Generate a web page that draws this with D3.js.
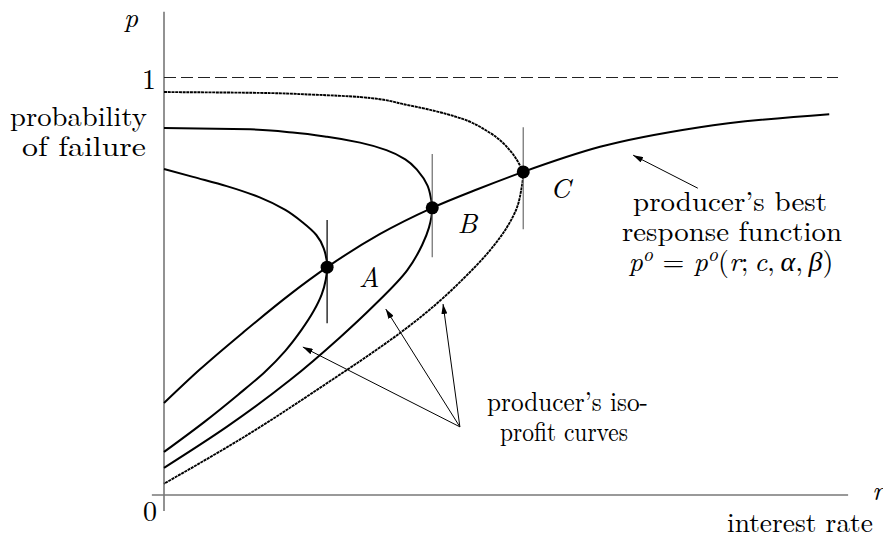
<!DOCTYPE html>
<html>
<head>
<meta charset="utf-8">
<script src="https://cdn.jsdelivr.net/npm/d3@7"></script>
<style>
  body { margin: 0; background: #fff; }
</style>
</head>
<body>
<div id="chart"></div>
<script>
// points, as [r, p]
const bestResponse = [
  [0, 0.220], [0.053, 0.300], [0.119, 0.391], [0.187, 0.480], [0.242, 0.545],
  [0.320, 0.624], [0.398, 0.687], [0.466, 0.732], [0.533, 0.773], [0.647, 0.833],
  [0.795, 0.880], [0.987, 0.911]
];
// iso-profit curves, top end -> tangency -> bottom end (p falling)
const isoA = [
  [0, 0.780], [0.043, 0.761], [0.093, 0.739], [0.142, 0.712], [0.180, 0.682],
  [0.205, 0.653], [0.226, 0.622], [0.237, 0.590], [0.242, 0.545], [0.240, 0.515],
  [0.234, 0.480], [0.222, 0.440], [0.204, 0.395], [0.180, 0.345], [0.150, 0.295],
  [0.110, 0.240], [0.060, 0.175], [0, 0.103]
];
const isoB = [
  [0, 0.878], [0.128, 0.875], [0.191, 0.867], [0.242, 0.857], [0.291, 0.843],
  [0.330, 0.825], [0.358, 0.803], [0.377, 0.775], [0.391, 0.740], [0.396, 0.710],
  [0.398, 0.687], [0.393, 0.639], [0.383, 0.598], [0.361, 0.538], [0.310, 0.451],
  [0.261, 0.377], [0.187, 0.275], [0.093, 0.163], [0, 0.065]
];
const isoC = [
  [0, 0.964], [0.142, 0.962], [0.217, 0.958], [0.291, 0.952], [0.361, 0.933],
  [0.435, 0.904], [0.484, 0.866], [0.513, 0.825], [0.528, 0.789], [0.533, 0.773],
  [0.530, 0.730], [0.524, 0.689], [0.509, 0.641], [0.484, 0.586], [0.442, 0.514],
  [0.409, 0.464], [0.358, 0.397], [0.306, 0.337], [0.246, 0.272], [0.128, 0.148],
  [0, 0.027]
];
const equilibria = [
  { name: "A", r: 0.242, p: 0.545, top: 0.658, bottom: 0.411 },
  { name: "B", r: 0.398, p: 0.687, top: 0.816, bottom: 0.569 },
  { name: "C", r: 0.533, p: 0.773, top: 0.880, bottom: 0.636 }
];
// arrows: [from, to]
const bestArrow = [[0.792, 0.734], [0.696, 0.813]];
const isoArrowFrom = [0.439, 0.163];
const isoArrowTo = [[0.206, 0.354], [0.329, 0.445], [0.414, 0.457]];

const W = 883, H = 538;
const SERIF = "'Latin Modern Roman'";
const x = d3.scaleLinear().domain([0, 1]).range([164, 838]);
const y = d3.scaleLinear().domain([0, 1]).range([495, 77]);

const svg = d3.select("#chart").append("svg")
  .attr("width", W).attr("height", H);

svg.append("defs").append("marker")
  .attr("id", "head")
  .attr("viewBox", "0 0 10 6")
  .attr("refX", 10).attr("refY", 3)
  .attr("markerWidth", 10).attr("markerHeight", 6)
  .attr("markerUnits", "userSpaceOnUse")
  .attr("orient", "auto")
  .append("path").attr("d", "M0,0 L10,3 L0,6 Z").attr("fill", "#000");

// axes
svg.append("line")
  .attr("x1", x(0)).attr("x2", x(0))
  .attr("y1", y(-0.038)).attr("y2", y(1.156))
  .attr("stroke", "#777").attr("stroke-width", 1.6);
svg.append("line")
  .attr("x1", x(-0.018)).attr("x2", x(1.015))
  .attr("y1", y(0)).attr("y2", y(0))
  .attr("stroke", "#777").attr("stroke-width", 1.6);

// p = 1
svg.append("line")
  .attr("x1", x(0)).attr("x2", x(1))
  .attr("y1", y(1) + 0.5).attr("y2", y(1) + 0.5)
  .attr("stroke", "#222").attr("stroke-width", 1)
  .attr("stroke-dasharray", "12,5");

// iso-profit curves: r is a function of p, so interpolate along y
const isoLine = d3.line()
  .x(d => x(d[0])).y(d => y(d[1]))
  .curve(d3.curveMonotoneY);
const brLine = d3.line()
  .x(d => x(d[0])).y(d => y(d[1]))
  .curve(d3.curveMonotoneX);

svg.append("path").attr("d", isoLine(isoA))
  .attr("fill", "none").attr("stroke", "#000").attr("stroke-width", 2);
svg.append("path").attr("d", isoLine(isoB))
  .attr("fill", "none").attr("stroke", "#000").attr("stroke-width", 2);
svg.append("path").attr("d", isoLine(isoC))
  .attr("fill", "none").attr("stroke", "#000").attr("stroke-width", 1.9)
  .attr("stroke-dasharray", "3,0.7");
svg.append("path").attr("d", brLine(bestResponse))
  .attr("fill", "none").attr("stroke", "#000").attr("stroke-width", 2);

// vertical tangency markers + dots
svg.selectAll(".tick-v")
  .data(equilibria)
  .enter().append("line")
  .attr("x1", d => x(d.r)).attr("x2", d => x(d.r))
  .attr("y1", d => y(d.top)).attr("y2", d => y(d.bottom))
  .attr("stroke", (d, i) => i === 0 ? "#111" : "#777")
  .attr("stroke-width", 1.3);

svg.selectAll(".dot")
  .data(equilibria)
  .enter().append("circle")
  .attr("cx", d => x(d.r)).attr("cy", d => y(d.p))
  .attr("r", 6.5).attr("fill", "#000");

// arrows
svg.append("line")
  .attr("x1", x(bestArrow[0][0])).attr("y1", y(bestArrow[0][1]))
  .attr("x2", x(bestArrow[1][0])).attr("y2", y(bestArrow[1][1]))
  .attr("stroke", "#000").attr("stroke-width", 1)
  .attr("marker-end", "url(#head)");
svg.selectAll(".iso-arrow")
  .data(isoArrowTo)
  .enter().append("line")
  .attr("x1", x(isoArrowFrom[0])).attr("y1", y(isoArrowFrom[1]))
  .attr("x2", d => x(d[0])).attr("y2", d => y(d[1]))
  .attr("stroke", "#000").attr("stroke-width", 1)
  .attr("marker-end", "url(#head)");

// labels
const FS = 28;
function label(txt, px, py, anchor, len, italic) {
  const t = svg.append("text")
    .attr("x", px).attr("y", py)
    .attr("text-anchor", anchor)
    .attr("font-family", SERIF)
    .attr("font-size", FS)
    .attr("fill", "#000")
    .text(txt);
  if (len) t.attr("textLength", len).attr("lengthAdjust", "spacingAndGlyphs");
  if (italic) t.attr("font-style", "italic");
  return t;
}
label("p", 131, 27, "middle", null, true);
label("1", 156, 89, "end");
label("probability", 10, 126, "start", 137);
label("of failure", 22, 156, "start", 124);
label("0", 157, 521, "end");
label("r", 872, 500, "start", null, true);
label("interest rate", 727, 532, "start", 146);

equilibria.forEach((d, i) => {
  const off = [[42, 20], [35, 25], [37, 26]][i];
  label(d.name, x(d.r) + off[0], y(d.p) + off[1], "middle", null, true);
});

label("producer\u2019s best", 633, 211, "start", 194);
label("response function", 622, 241, "start", 220);

const math = svg.append("text")
  .attr("x", 731).attr("y", 271)
  .attr("text-anchor", "middle")
  .attr("font-family", SERIF)
  .attr("font-size", FS);
const parts = [
  ["p", true, 0], ["o", true, -10], [" = ", false, 10], ["p", true, 0], ["o", true, -10],
  ["(", false, 10], ["r", true, 0], [";\u2009", false, 0], ["c", true, 0], [",\u2009", false, 0],
  ["\u03b1", true, 0], [",\u2009", false, 0], ["\u03b2", true, 0], [")", false, 0]
];
parts.forEach(([s, it, dy]) => {
  const ts = math.append("tspan").text(s).attr("dy", dy);
  if (it) ts.attr("font-style", "italic");
  if (s === "o") ts.attr("font-size", 20);
  if (s === "\u03b1" || s === "\u03b2") ts.attr("font-family", "'Liberation Serif'");
});

label("producer\u2019s iso-", 487, 411, "start", 161);
label("profit curves", 500, 441, "start", 128);
</script>
</body>
</html>
